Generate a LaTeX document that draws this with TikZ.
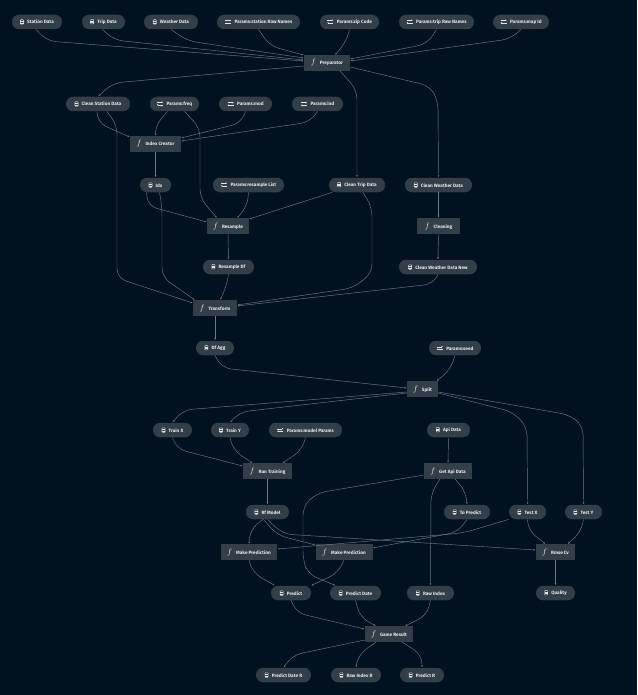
\documentclass[tikz,border=0pt]{standalone}
\usepackage{fontspec}
\setmainfont{Fira Sans}
\usepackage{xcolor}
\usetikzlibrary{arrows.meta, positioning, calc}

\definecolor{bgcol}{HTML}{02111F}
\definecolor{nodecol}{HTML}{323E48}
\definecolor{edgecol}{HTML}{6B7A84}
\definecolor{textcol}{HTML}{E4E8EB}

\newcommand{\dataicon}{\tikz[baseline=0pt,x=1pt,y=1pt]{\draw[textcol,line width=.4pt,rounded corners=.7pt] (0,-.3) rectangle (3.2,4.3); \draw[textcol,line width=.3pt] (0,1.2) -- (3.2,1.2) (0,2.8) -- (3.2,2.8);}\hspace{3.4pt}}
\newcommand{\parmicon}{\tikz[baseline=0pt,x=1pt,y=1pt]{\draw[textcol,line width=.4pt,-{Stealth[length=1.3pt,width=1.6pt]}] (0,3.3) -- (6,3.3); \draw[textcol,line width=.4pt,-{Stealth[length=1.3pt,width=1.6pt]}] (6,.7) -- (0,.7);}\hspace{3.4pt}}
\newcommand{\funcicon}{{\fontsize{8}{8}\selectfont$f$}\hspace{4pt}}

\begin{document}
\begin{tikzpicture}[
  x=1pt, y=-1pt,
  font=\fontsize{4.7}{5.5}\selectfont\bfseries,
  data/.style ={rectangle, rounded corners=7pt, fill=nodecol, text=textcol, minimum height=14.5pt, inner sep=0pt},
  task/.style ={rectangle, fill=nodecol, text=textcol, minimum height=15.5pt, inner sep=0pt},
  arr/.style  ={-{Stealth[length=1.8pt,width=1.8pt]}, edgecol, line width=.45pt, rounded corners=9pt, shorten >=.6pt}
  ]

  \fill[bgcol] (0,0) rectangle (637,695);

  \node[data, minimum width=50pt] (stationdata) at (37,22)    {\dataicon Station Data};
  \node[data, minimum width=43pt] (tripdata)    at (103.5,22) {\dataicon Trip Data};
  \node[data, minimum width=54pt] (weatherdata) at (171,22)   {\dataicon Weather Data};
  \node[data, minimum width=83pt] (stationraw)  at (258.5,22) {\parmicon Params:station Raw Names};
  \node[data, minimum width=59pt] (zipcode)     at (349.5,22) {\parmicon Params:zip Code};
  \node[data, minimum width=75pt] (tripraw)     at (436.5,22) {\parmicon Params:trip Raw Names};
  \node[data, minimum width=56pt] (mapid)       at (521,22)   {\parmicon Params:map Id};

  \node[task, minimum width=46pt] (prep) at (327,63) {\funcicon Preparator};

  \node[data, minimum width=64pt] (cleanstation) at (98,104)    {\dataicon Clean Station Data};
  \node[data, minimum width=49pt] (freq)         at (174.5,104) {\parmicon Params:freq};
  \node[data, minimum width=53pt] (mod)          at (245.5,104) {\parmicon Params:mod};
  \node[data, minimum width=51pt] (ind)          at (317.5,104) {\parmicon Params:ind};

  \node[task, minimum width=51pt] (indexcreator) at (155.5,144) {\funcicon Index Creator};

  \node[data, minimum width=31pt] (idx)          at (155.5,185) {\dataicon Idx};
  \node[data, minimum width=71pt] (resamplelist) at (248.5,185) {\parmicon Params:resample List};
  \node[data, minimum width=56pt] (cleantrip)    at (357,185)   {\dataicon Clean Trip Data};
  \node[data, minimum width=67pt] (cleanweather) at (438.5,185) {\dataicon Clean Weather Data};

  \node[task, minimum width=42pt] (resample) at (228,226)   {\funcicon Resample};
  \node[task, minimum width=43pt] (cleaning) at (438.5,226) {\funcicon Cleaning};

  \node[data, minimum width=51pt] (resampledf)      at (228.5,267) {\dataicon Resample Df};
  \node[data, minimum width=78pt] (cleanweathernew) at (438,267)   {\dataicon Clean Weather Data New};

  \node[task, minimum width=44pt] (transform) at (215,308) {\funcicon Transform};

  \node[data, minimum width=38pt] (dfagg) at (215,348) {\dataicon Df Agg};
  \node[data, minimum width=52pt] (seed)  at (455,348) {\parmicon Params:seed};

  \node[task, minimum width=31pt] (split) at (422.5,389) {\funcicon Split};

  \node[data, minimum width=39pt] (trainx)      at (172.5,430) {\dataicon Train X};
  \node[data, minimum width=38pt] (trainy)      at (230,430)   {\dataicon Train Y};
  \node[data, minimum width=73pt] (modelparams) at (305.5,430) {\parmicon Params:model Params};
  \node[data, minimum width=43pt] (apidata)     at (448.5,430) {\dataicon Api Data};

  \node[task, minimum width=49pt] (runtraining) at (267.5,471) {\funcicon Run Training};
  \node[task, minimum width=48pt] (getapi)      at (448,471)   {\funcicon Get Api Data};

  \node[data, minimum width=43pt] (rfmodel)   at (267.5,512) {\dataicon Rf Model};
  \node[data, minimum width=46pt] (topredict) at (467,512)   {\dataicon To Predict};
  \node[data, minimum width=37pt] (testx)     at (527.5,512) {\dataicon Test X};
  \node[data, minimum width=37pt] (testy)     at (583.5,512) {\dataicon Test Y};

  \node[task, minimum width=56pt] (makepreda) at (249,552)   {\funcicon Make Prediction};
  \node[task, minimum width=57pt] (makepredb) at (344,552)   {\funcicon Make Prediction};
  \node[task, minimum width=39pt] (rmse)      at (555.5,552) {\funcicon Rmse Cv};

  \node[data, minimum width=40pt] (predict)     at (291,593)   {\dataicon Predict};
  \node[data, minimum width=51pt] (predictdate) at (355.5,593) {\dataicon Predict Date};
  \node[data, minimum width=47pt] (rawindex)    at (430.5,593) {\dataicon Raw Index};
  \node[data, minimum width=39pt] (quality)     at (555.5,593) {\dataicon Quality};

  \node[task, minimum width=48pt] (gameresult) at (389,634) {\funcicon Game Result};

  \node[data, minimum width=55pt] (predictdater) at (283.5,675) {\dataicon Predict Date R};
  \node[data, minimum width=50pt] (rawindexr)    at (356,675)   {\dataicon Raw Index R};
  \node[data, minimum width=44pt] (predictr)     at (422,675)   {\dataicon Predict R};

  \draw[arr] ([xshift=-1]stationdata.south) -- (47,41) -- ([yshift=2]prep.west);
  \draw[arr] ([xshift=-1]tripdata.south) -- (114,40) -- ([yshift=3]prep.west);
  \draw[arr] (weatherdata.south) -- (188,41) -- ([yshift=5]prep.west);
  \draw[arr] (stationraw.south) -- (270,46) -- (prep.north west);
  \draw[arr] (zipcode.south) -- (346,42) -- ([xshift=8]prep.north);
  \draw[arr] (tripraw.south) -- (427,44) -- ([yshift=4]prep.east);
  \draw[arr] (mapid.south) -- (510,39) -- ([yshift=2]prep.east);

  \draw[arr] ([yshift=-3]prep.west) -- (113,83) -- (cleanstation.north);
  \draw[arr] ([xshift=13]prep.south) -- (357,90) -- (cleantrip.north);
  \draw[arr] ([yshift=-4]prep.east) -- (430,86) -- (438,101) -- (cleanweather.north);

  \draw[arr] ([xshift=-1]cleanstation.south) -- (98,123) -- ([yshift=7]indexcreator.west);
  \draw[arr] ([xshift=9]cleanstation.south) -- (117,125) -- (117,278) -- ([yshift=5]transform.west);
  \draw[arr] ([xshift=-7]freq.south) -- (155,126) -- (indexcreator.north);
  \draw[arr] ([xshift=10]freq.south) -- (200,128) -- (200,198) -- ([xshift=-11]resample.north);
  \draw[arr] (mod.south) -- (241,123) -- ([yshift=6]indexcreator.east);
  \draw[arr] (ind.south) -- (310,122) -- ([yshift=3]indexcreator.east);
  \draw[arr] (indexcreator.south) -- (idx.north);

  \draw[arr] ([xshift=-9]idx.south) -- (148,206) -- ([yshift=4]resample.west);
  \draw[arr] ([xshift=4]idx.south) -- (162,206) -- (162,277) -- ([xshift=-20]transform.north);
  \draw[arr] (resamplelist.south) -- (247,207) -- ([xshift=9]resample.north);
  \draw[arr] ([xshift=-25]cleantrip.south) -- ([yshift=7]resample.east);
  \draw[arr] ([xshift=6]cleantrip.south) -- (372,207) -- (372,273) -- (353,288) -- ([yshift=3]transform.east);
  \draw[arr] (cleanweather.south) -- (cleaning.north);
  \draw[arr] (cleaning.south) -- (cleanweathernew.north);
  \draw[arr] (resample.south) -- (resampledf.north);
  \draw[arr] (resampledf.south) -- (226,288) -- ([xshift=5]transform.north);
  \draw[arr] (cleanweathernew.south) -- (433,284) -- ([yshift=2]transform.east);

  \draw[arr] (transform.south) -- (dfagg.north);
  \draw[arr] (dfagg.south) -- (222,368) -- ([yshift=1]split.west);
  \draw[arr] (seed.south) -- (450,370) -- ([xshift=14]split.north);

  \draw[arr] ([yshift=-3]split.west) -- (183,410) -- (trainx.north);
  \draw[arr] ([yshift=-4]split.west) -- (240,412) -- (trainy.north);
  \draw[arr] ([yshift=-4]split.east) -- (513,412) -- (527,427) -- (testx.north);
  \draw[arr] ([yshift=-3]split.east) -- (570,415) -- (583,426) -- (testy.north);

  \draw[arr] (trainx.south) -- (177,449) -- ([yshift=5]runtraining.west);
  \draw[arr] (trainy.south) -- (233,450) -- ([xshift=-15]runtraining.north);
  \draw[arr] (modelparams.south) -- (302,450) -- ([xshift=15]runtraining.north);
  \draw[arr] (apidata.south) -- (getapi.north);
  \draw[arr] (runtraining.south) -- (rfmodel.north);
  \draw[arr] ([xshift=7]getapi.south) -- (466,492) -- (topredict.north);
  \draw[arr] ([xshift=-8]getapi.south) -- (431,493) -- (rawindex.north);
  \draw[arr] ([yshift=-4]getapi.west) -- (317,493) -- (303,506) -- (303,560) -- (308,574) -- ([xshift=-20]predictdate.north);

  \draw[arr] ([xshift=-5]rfmodel.south) -- (250,530) -- (makepreda.north);
  \draw[arr] ([xshift=-4]rfmodel.south) -- (277,535) -- ([yshift=7]makepredb.west);
  \draw[arr] (rfmodel.south) -- (283,534) -- ([yshift=2]rmse.west);
  \draw[arr] (topredict.south) -- (458,532) -- ([yshift=4]makepredb.east);
  \draw[arr] ([xshift=-19]testx.south) -- (463,533) -- ([yshift=3]makepreda.east);
  \draw[arr] (testx.south) -- (528,530) -- ([xshift=-10]rmse.north);
  \draw[arr] (testy.south) -- (581,532) -- ([xshift=12]rmse.north);

  \draw[arr] (makepreda.south) -- (253,573) -- ([xshift=-16]predict.north);
  \draw[arr] (makepredb.south) -- (338,573) -- ([xshift=20]predict.north);
  \draw[arr] (rmse.south) -- (quality.north);

  \draw[arr] (predict.south) -- (297,613) -- ([yshift=5]gameresult.west);
  \draw[arr] (predictdate.south) -- (360,617) -- ([xshift=-13]gameresult.north);
  \draw[arr] (rawindex.south) -- (427,615) -- ([xshift=16]gameresult.north);

  \draw[arr] ([yshift=-6]gameresult.west) -- (293,655) -- (predictdater.north);
  \draw[arr] ([xshift=-13]gameresult.south) -- (358,655) -- (rawindexr.north);
  \draw[arr] ([xshift=13]gameresult.south) -- (422,655) -- (predictr.north);

\end{tikzpicture}
\end{document}
